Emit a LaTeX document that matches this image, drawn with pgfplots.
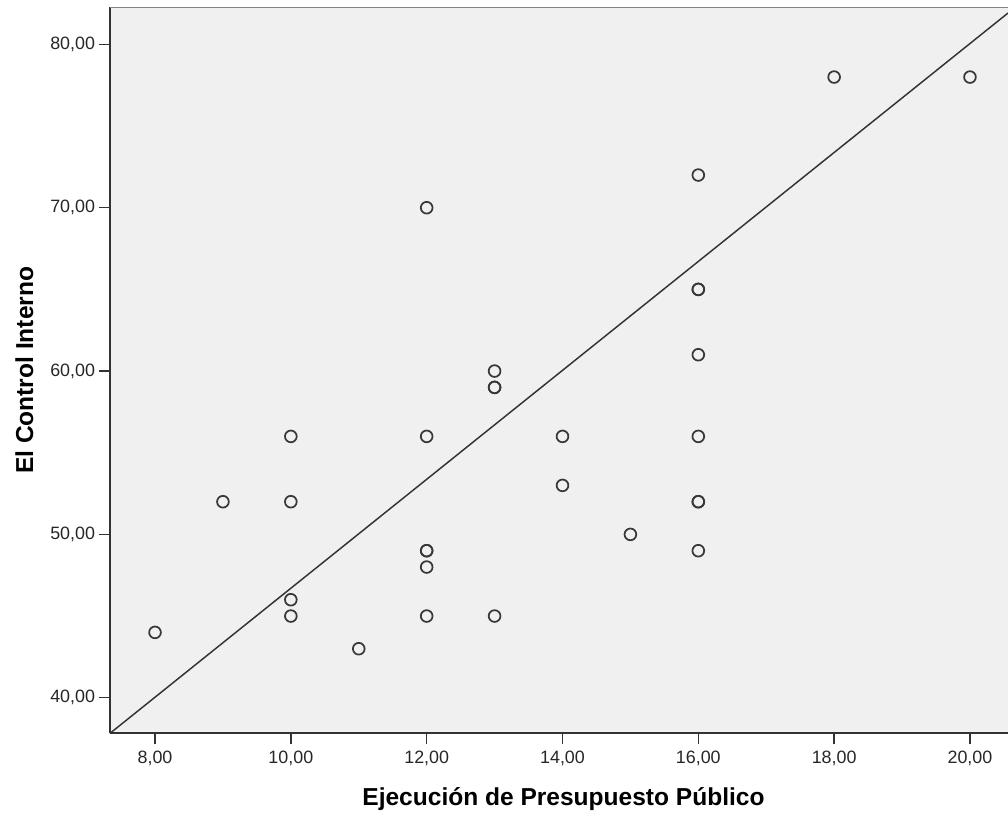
\documentclass[border=0pt]{standalone}
\usepackage{pgfplots}
\pgfplotsset{compat=1.18}
\usepackage{fontspec}
\setmainfont{Liberation Sans}

\definecolor{plotbg}{HTML}{F0F0F0}
\definecolor{axiscol}{HTML}{333333}
\definecolor{framecol}{HTML}{858585}
\definecolor{markcol}{HTML}{383838}

\begin{document}
\begin{tikzpicture}
\begin{axis}[
  at={(0,0)}, anchor=south west,
  scale only axis,
  width=673.5pt, height=544.5pt,
  xmin=7.337, xmax=20.56,
  ymin=37.82, ymax=82.27,
  xtick={8,10,...,20},
  ytick={40,50,...,80},
  axis x line*=bottom,
  axis y line*=left,
  axis line style={-, draw=axiscol, line width=1.5pt},
  axis background/.style={fill=plotbg},
  tick align=outside,
  major tick length=8.25pt,
  every tick/.style={draw=axiscol, line width=1.1pt},
  minor tick num=0,
  ticklabel style={font=\fontsize{13.4}{16}\selectfont, text=black!85},
  xticklabel style={anchor=base, yshift=-14.25pt},
  yticklabel style={anchor=east, inner sep=0pt, xshift=-2.8pt},
  /pgf/number format/.cd, fixed, fixed zerofill, precision=2, use comma, assume math mode=true,
  /pgfplots/.cd,
  xlabel={Ejecución de Presupuesto Público},
  ylabel={El Control Interno},
  label style={font=\fontsize{18.4}{22}\selectfont\bfseries, text=black},
  xlabel style={at={(axis description cs:0.505,-0.0992)}, anchor=base},
  ylabel style={at={(axis description cs:-0.0857,0.5)}, anchor=base},
  clip=true,
]
% fitted line
\addplot[no marks, draw=axiscol, line width=1.1pt] coordinates {(7.337,37.82) (20.56,81.92)};

% observations (coincident cases are drawn twice)
\addplot[only marks, mark=o, mark size=4.4pt, mark options={draw=markcol, line width=1.3pt}] table {
x y
8 44
9 52
10 56
10 52
10 46
10 45
11 43
12 70
12 56
12 49
12 49
12 48
12 45
13 60
13 59
13 59
13 45
14 56
14 53
15 50
16 72
16 65
16 65
16 61
16 56
16 52
16 52
16 49
18 78
20 78
};

% upper frame edge
\draw[framecol, line width=1.6pt] (rel axis cs:0,1) -- (rel axis cs:1,1);
\end{axis}
\pgfresetboundingbox
\path[use as bounding box] (-82.5pt,-60pt) rectangle (673.5pt,550pt);
\end{tikzpicture}
\end{document}
